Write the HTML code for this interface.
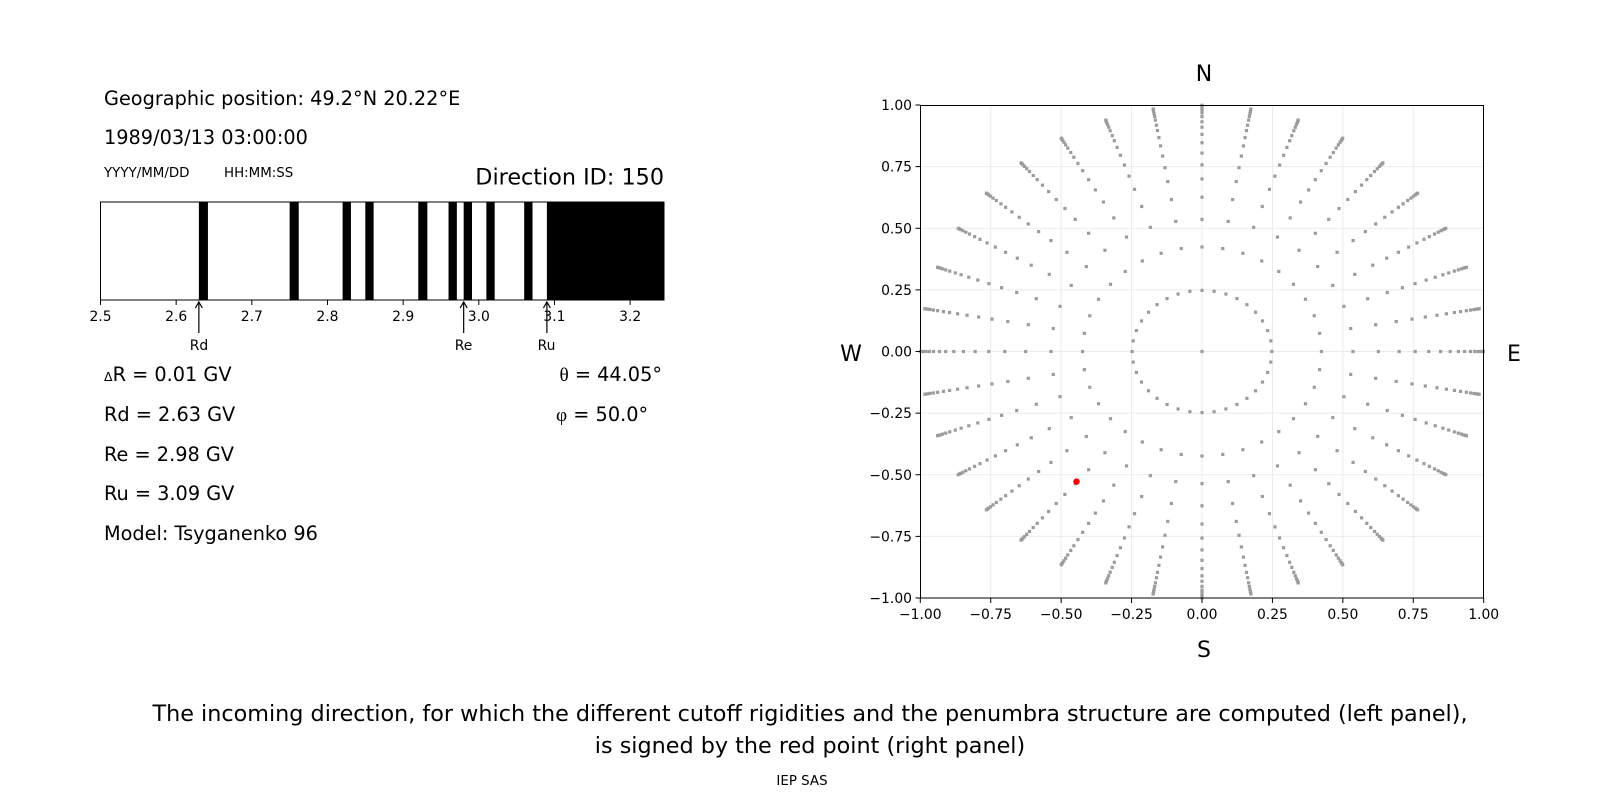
<!DOCTYPE html>
<html><head><meta charset="utf-8"><style>
html,body{margin:0;padding:0;background:#fff;}
svg{display:block;font-family:"DejaVu Sans","Liberation Sans",sans-serif;}
</style></head><body>
<svg id="s" width="1600" height="800" viewBox="0 0 1600 800" xmlns="http://www.w3.org/2000/svg">
<rect width="1600" height="800" fill="#fff"/>
<text x="104" y="105" font-size="19.3">Geographic position: 49.2°N 20.22°E</text>
<text x="104" y="144" font-size="19.3">1989/03/13 03:00:00</text>
<text x="104" y="177" font-size="13.4">YYYY/MM/DD</text>
<text x="224" y="177" font-size="13.4">HH:MM:SS</text>
<text x="664" y="184.5" font-size="22.3" text-anchor="end">Direction ID: 150</text>
<g id="bar"></g>
<rect x="100.5" y="202" width="563.5" height="98" fill="none" stroke="#000" stroke-width="1"/>
<g id="barticks" font-size="13.9" text-anchor="middle"></g>
<g font-size="13.9" text-anchor="middle">
<text x="199" y="350">Rd</text>
<text x="463.5" y="350">Re</text>
<text x="546.5" y="350">Ru</text>
</g>
<g stroke="#000" stroke-width="1.2" fill="none" id="arrows"></g>
<g font-size="19.3">
<text x="104" y="381"><tspan font-size="12.5">Δ</tspan>R = 0.01 GV</text>
<text x="104" y="421">Rd = 2.63 GV</text>
<text x="104" y="461">Re = 2.98 GV</text>
<text x="104" y="500">Ru = 3.09 GV</text>
<text x="104" y="540">Model: Tsyganenko 96</text>
<text x="662" y="381" text-anchor="end"><tspan font-family="Liberation Serif, serif">θ</tspan> = 44.05°</text>
<text x="556" y="421"><tspan font-family="Liberation Serif, serif">φ</tspan> = 50.0°</text>
</g>
<g id="grid" stroke="#ebebeb" stroke-width="1"></g>
<g id="dots" fill="#9c9c9c"></g>
<circle cx="1076.5" cy="481.6" r="3.2" fill="#f00"/>
<rect x="920.5" y="105.5" width="563" height="492.5" fill="none" stroke="#000" stroke-width="1"/>
<g id="ticks" font-size="13.9"></g>
<g font-size="22" text-anchor="middle">
<text x="1204" y="81">N</text>
<text x="1204" y="657">S</text>
<text x="851" y="361">W</text>
<text x="1514" y="361">E</text>
</g>
<g font-size="22.3" text-anchor="middle">
<text x="810" y="721">The incoming direction, for which the different cutoff rigidities and the penumbra structure are computed (left panel),</text>
<text x="810" y="753">is signed by the red point (right panel)</text>
</g>
<text x="802" y="785" font-size="13.4" text-anchor="middle">IEP SAS</text>
</svg>
<script>
const NS="http://www.w3.org/2000/svg";
function el(p,t,a){const e=document.createElementNS(NS,t);for(const k in a)e.setAttribute(k,a[k]);p.appendChild(e);return e;}
const bx=v=>100.5+(v-2.5)*756.6;
const bar=document.getElementById('bar');
const bands=[[2.63,2.642],[2.75,2.762],[2.82,2.831],[2.85,2.861],[2.92,2.932],[2.96,2.971],[2.98,2.991],[3.01,3.021],[3.06,3.071],[3.09,3.3]];
bands.forEach(b=>{const x1=bx(b[0]),x2=Math.min(bx(b[1]),664);el(bar,'rect',{x:x1,y:202,width:x2-x1,height:98,fill:'#000'});});
const bt=document.getElementById('barticks');
for(let i=0;i<=7;i++){const v=2.5+i*0.1,x=bx(v);el(bt,'line',{x1:x,y1:300,x2:x,y2:305,stroke:'#000','stroke-width':1});const t=el(bt,'text',{x:x,y:321});t.textContent=v.toFixed(1);}
const ar=document.getElementById('arrows');
[2.63,2.98,3.09].forEach(v=>{const x=bx(v);el(ar,'line',{x1:x,y1:333,x2:x,y2:302});el(ar,'polyline',{points:`${x-3.5},${308} ${x},${302} ${x+3.5},${308}`});});
const cx=1202,cy=351.5,sx=281.7,sy=246.5;
const X=v=>cx+v*sx,Y=v=>cy-v*sy;
const g=document.getElementById('grid');
for(let i=-3;i<=3;i++){const v=i*0.25;el(g,'line',{x1:X(v),y1:105.5,x2:X(v),y2:598});el(g,'line',{x1:920.5,y1:Y(v),x2:1483.5,y2:Y(v)});}
const d=document.getElementById('dots');
const R=[0.248,0.424,0.536,0.626,0.700,0.757,0.805,0.847,0.881,0.910,0.932,0.953,0.968,0.980,0.989,0.995,0.999];
function dot(x,y){el(d,'rect',{x:X(x)-1.6,y:Y(y)-1.6,width:3.2,height:3.2});}
dot(0,0);
for(let a=0;a<360;a+=10){const r=a*Math.PI/180;R.forEach(rr=>dot(rr*Math.sin(r),rr*Math.cos(r)));}
const tk=document.getElementById('ticks');
for(let i=-4;i<=4;i++){const v=i*0.25,s=v.toFixed(2);
el(tk,'line',{x1:X(v),y1:598,x2:X(v),y2:603,stroke:'#000'});
let t=el(tk,'text',{x:X(v),y:619,'text-anchor':'middle'});t.textContent=s.replace('-','\u2212');
el(tk,'line',{x1:915.5,y1:Y(v),x2:920.5,y2:Y(v),stroke:'#000'});
t=el(tk,'text',{x:912,y:Y(v)+5,'text-anchor':'end'});t.textContent=s.replace('-','\u2212');}
</script>
</body></html>
